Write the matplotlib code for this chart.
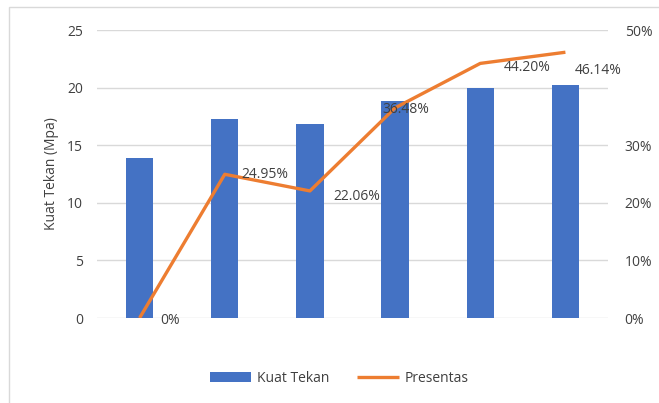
import matplotlib
matplotlib.use("Agg")
import matplotlib.pyplot as plt
from matplotlib.patches import Rectangle

categories = ["1", "2", "3", "4", "5", "6"]
kuat_tekan = [13.9, 17.3, 16.85, 18.85, 20.0, 20.25]
presentas = [0.0, 24.95, 22.06, 36.48, 44.20, 46.14]
presentas_labels = ["0%", "24.95%", "22.06%", "36.48%", "44.20%", "46.14%"]
left_ticks = [0, 5, 10, 15, 20, 25]
right_ticks = [0, 10, 20, 30, 50]
right_tick_labels = ["0%", "10%", "20%", "30%", "50%"]

plt.rcParams['font.family'] = ['Open Sans', 'DejaVu Sans']

W, H = 659, 403
fig = plt.figure(figsize=(W/100, H/100), dpi=100)
fig.patches.append(Rectangle((9/W, -0.1), 1.0, 1 - 7/H + 0.1, transform=fig.transFigure,
                             fill=False, edgecolor='#D9D9D9', linewidth=1.0))

ax = fig.add_axes([97/W, 1 - 318/H, (608-97)/W, (318-30)/H])
x = list(range(len(categories)))
ax.bar(x, kuat_tekan, width=0.32, color='#4472C4', label='Kuat Tekan', zorder=2)
ax.set_xlim(-0.5, len(categories) - 0.5)
ax.set_ylim(0, 25)
ax.set_yticks(left_ticks)
ax.set_xticks([])
ax.grid(axis='y', color='#D9D9D9', linewidth=1.0, zorder=0)
ax.set_axisbelow(True)
for s in ax.spines.values():
    s.set_visible(False)
ax.tick_params(axis='y', length=0, labelsize=10, colors='#404040', pad=10)
ax.set_ylabel('Kuat Tekan (Mpa)', fontsize=10, color='#404040', labelpad=6)

ax2 = ax.twinx()
ax2.plot(x, presentas, color='#ED7D31', linewidth=2.4, label='Presentas', zorder=3,
         solid_capstyle='butt')
ax2.set_ylim(0, 50)
ax2.set_yticks(right_ticks)
ax2.set_yticklabels(right_tick_labels)
for s in ax2.spines.values():
    s.set_visible(False)
ax2.tick_params(axis='y', length=0, labelsize=10, colors='#404040', pad=12)

offsets = [(15, -2), (12, 0), (17, -4), (-9, -1), (17, -3), (7, -13)]
for xi, yi, lab, off in zip(x, presentas, presentas_labels, offsets):
    ax2.annotate(lab, (xi, yi), xytext=off, textcoords='offset points',
                 ha='left', va='center', fontsize=10, color='#404040', zorder=4)

h1, l1 = ax.get_legend_handles_labels()
h2, l2 = ax2.get_legend_handles_labels()
fig.legend(h1 + h2, l1 + l2, loc='center', bbox_to_anchor=(339/W, 1 - 378/H),
           ncol=2, frameon=False, fontsize=10, handlelength=3.0, handletextpad=0.4,
           columnspacing=2.0, labelcolor='#404040')

fig.savefig('out.png', dpi=100)
